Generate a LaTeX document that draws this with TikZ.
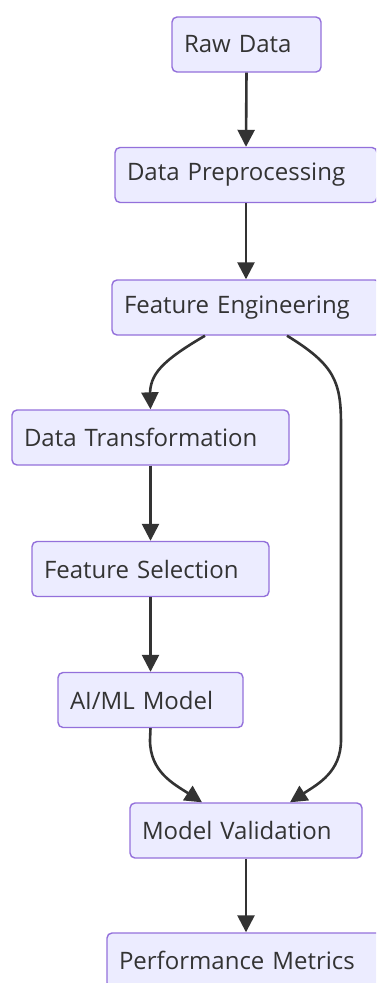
\documentclass[tikz,border=0pt]{standalone}
\usepackage{fontspec}
\setmainfont{Open Sans}
\usetikzlibrary{arrows.meta}
\definecolor{boxfill}{HTML}{ECECFF}
\definecolor{boxline}{HTML}{9370DB}
\definecolor{ink}{HTML}{333333}
\tikzset{
  flowbox/.style={draw=boxline, fill=boxfill, line width=1.4pt, rounded corners=5pt,
    minimum height=55pt, inner xsep=12pt, inner ysep=0pt, align=left,
    text=ink, font=\fontsize{24}{28}\selectfont},
  link/.style={draw=ink, line width=2.6pt, -{Triangle[length=17pt,width=17pt]}},
}
\begin{document}
\begin{tikzpicture}[x=1pt,y=-1pt]
\useasboundingbox (0,0) rectangle (376,983);
\clip (0,0) rectangle (376,983);
% process steps (width minus the 24pt of side padding gives the text width)
\node[flowbox, text width=125pt] (raw)  at (246.5,44.5) {Raw Data};
\node[flowbox, text width=238pt] (prep) at (246,175)   {Data Preprocessing};
\node[flowbox, text width=244pt] (feat) at (246,307.5) {Feature Engineering};
\node[flowbox, text width=253pt] (trans) at (150.5,437.5) {Data Transformation};
\node[flowbox, text width=213pt] (sel)  at (150.5,569)  {Feature Selection};
\node[flowbox, text width=161pt] (ml)   at (150.5,700)  {AI/ML Model};
\node[flowbox, text width=208pt] (val)  at (246,830.5)  {Model Validation};
\node[flowbox, text width=254pt] (perf) at (246,960.5)  {Performance Metrics};
% connectors
\draw[link] (raw.south) -- (prep.north);
\draw[link] (prep.south) -- (feat.north);
\draw[link] (feat.south -| 205,0) .. controls (160,362) and (150,375) .. (150,395) -- (trans.north);
\draw[link] (feat.south -| 287,0) .. controls (335,365) and (341,382) .. (341,425)
  -- (341,740) .. controls (341,772) and (318,784) .. (val.north -| 290,0);
\draw[link] (trans.south) -- (sel.north);
\draw[link] (sel.south) -- (ml.north);
\draw[link] (ml.south) -- (150,740) .. controls (150,772) and (174,784) .. (val.north -| 202,0);
\draw[link] (val.south) -- (perf.north);
\end{tikzpicture}
\end{document}
